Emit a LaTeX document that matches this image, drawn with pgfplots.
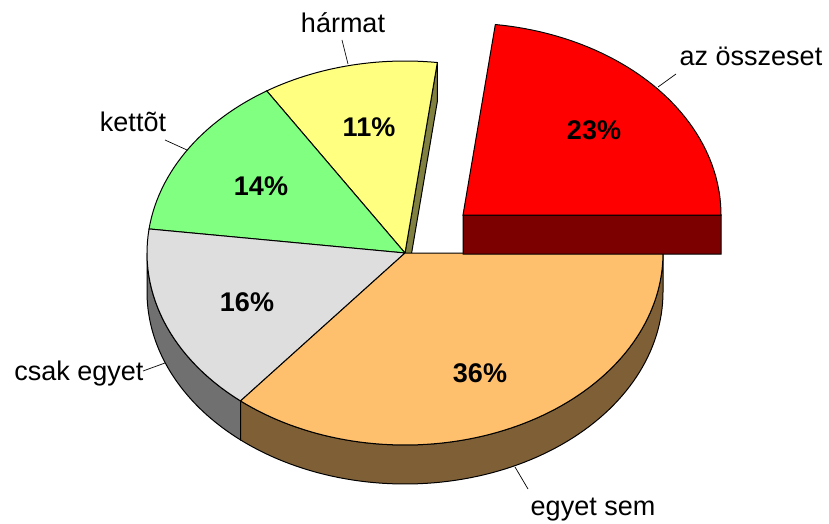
\documentclass[border=0pt]{standalone}
\usepackage{pgfplots}
\pgfplotsset{compat=1.18}
\usepgfplotslibrary{fillbetween}
\usepackage{fontspec}
\setmainfont{Liberation Sans}
\definecolor{redtop}{HTML}{FF0000}
\definecolor{redside}{HTML}{7C0000}
\definecolor{yeltop}{HTML}{FFFF80}
\definecolor{yelside}{HTML}{808040}
\definecolor{grntop}{HTML}{80FF80}
\definecolor{graytop}{HTML}{DEDEDE}
\definecolor{grayside}{HTML}{707070}
\definecolor{orgtop}{HTML}{FFC06E}
\definecolor{orgside}{HTML}{7F6036}
\begin{document}
\begin{tikzpicture}
% shares (percent), counter-clockwise from 3 o'clock
\def\vA{23}% az összeset
\def\vB{11}% hármat
\def\vC{14}% kettõt
\def\vD{16}% csak egyet
\def\vE{36}% egyet sem
\pgfmathsetmacro\aA{3.6*\vA}
\pgfmathsetmacro\aB{\aA+3.6*\vB}
\pgfmathsetmacro\aC{\aB+3.6*\vC}
\pgfmathsetmacro\aD{\aC+3.6*\vD}
\pgfmathsetmacro\aE{\aD+3.6*\vE}
\def\cx{405}\def\cy{270}\def\rx{258}\def\ry{192}\def\dep{39}
\def\ex{463}\def\ey{308}
\begin{axis}[width=829pt, height=523pt, scale only axis,
  xmin=0, xmax=829, ymin=0, ymax=523, hide axis, clip=false]
\path (axis cs:0,0) rectangle (axis cs:829,523);
% side faces
\addplot[name path=gt, draw=none, domain=180:\aD, samples=40] ({\cx+\rx*cos(x)},{\cy+\ry*sin(x)});
\addplot[name path=gb, draw=none, domain=180:\aD, samples=40] ({\cx+\rx*cos(x)},{\cy-\dep+\ry*sin(x)});
\addplot[fill=grayside, draw=black, line width=1pt] fill between[of=gt and gb];
\addplot[name path=ot, draw=none, domain=\aD:360, samples=80] ({\cx+\rx*cos(x)},{\cy+\ry*sin(x)});
\addplot[name path=ob, draw=none, domain=\aD:360, samples=80] ({\cx+\rx*cos(x)},{\cy-\dep+\ry*sin(x)});
\addplot[fill=orgside, draw=black, line width=1pt] fill between[of=ot and ob];
% yellow radial face
\addplot[fill=yelside, draw=black, line width=1pt, domain=0:1, samples=2]
  ({\cx+\rx*cos(\aA)*x},{\cy+\ry*sin(\aA)*x}) -- (axis cs:{\cx+\rx*cos(\aA)},{\cy-\dep+\ry*sin(\aA)}) -- (axis cs:\cx,{\cy-\dep}) -- cycle;
% top faces
\addplot[fill=yeltop, draw=black, line width=1pt, domain=\aA:\aB, samples=30] ({\cx+\rx*cos(x)},{\cy+\ry*sin(x)}) -- (axis cs:\cx,\cy) -- cycle;
\addplot[fill=grntop, draw=black, line width=1pt, domain=\aB:\aC, samples=30] ({\cx+\rx*cos(x)},{\cy+\ry*sin(x)}) -- (axis cs:\cx,\cy) -- cycle;
\addplot[fill=graytop, draw=black, line width=1pt, domain=\aC:\aD, samples=30] ({\cx+\rx*cos(x)},{\cy+\ry*sin(x)}) -- (axis cs:\cx,\cy) -- cycle;
\addplot[fill=orgtop, draw=black, line width=1pt, domain=\aD:\aE, samples=80] ({\cx+\rx*cos(x)},{\cy+\ry*sin(x)}) -- (axis cs:\cx,\cy) -- cycle;
% exploded slice
\addplot[fill=redside, draw=black, line width=1pt, domain=0:1, samples=2]
  ({\ex+\rx*x},{\ey}) -- (axis cs:{\ex+\rx},{\ey-\dep}) -- (axis cs:\ex,{\ey-\dep}) -- cycle;
\addplot[fill=redtop, draw=black, line width=1pt, domain=0:\aA, samples=50] ({\ex+\rx*cos(x)},{\ey+\ry*sin(x)}) -- (axis cs:\ex,\ey) -- cycle;
% leader lines
\draw[black, line width=0.7pt] (axis cs:658,436) -- (axis cs:676,449);
\draw[black, line width=0.7pt] (axis cs:348,459) -- (axis cs:342,483);
\draw[black, line width=0.7pt] (axis cs:165,383) -- (axis cs:187,373);
\draw[black, line width=0.7pt] (axis cs:143,152) -- (axis cs:165,160);
\draw[black, line width=0.7pt] (axis cs:515,56) -- (axis cs:528,34);
% category labels
\begin{scope}[every node/.style={inner sep=0pt, anchor=base, font=\fontsize{27}{32}\selectfont}]
\node at (axis cs:751,457) {az összeset};
\node at (axis cs:343,490) {hármat};
\node at (axis cs:133,391) {kettõt};
\node at (axis cs:79,143) {csak egyet};
\node at (axis cs:593,8) {egyet sem};
\end{scope}
\begin{scope}[every node/.style={inner sep=0pt, anchor=base, font=\fontsize{27}{32}\selectfont\bfseries}]
\node at (axis cs:594,383) {\vA\%};
\node at (axis cs:369,386) {\vB\%};
\node at (axis cs:261,328) {\vC\%};
\node at (axis cs:247,212) {\vD\%};
\node at (axis cs:480,141) {\vE\%};
\end{scope}
\end{axis}
\end{tikzpicture}
\end{document}
